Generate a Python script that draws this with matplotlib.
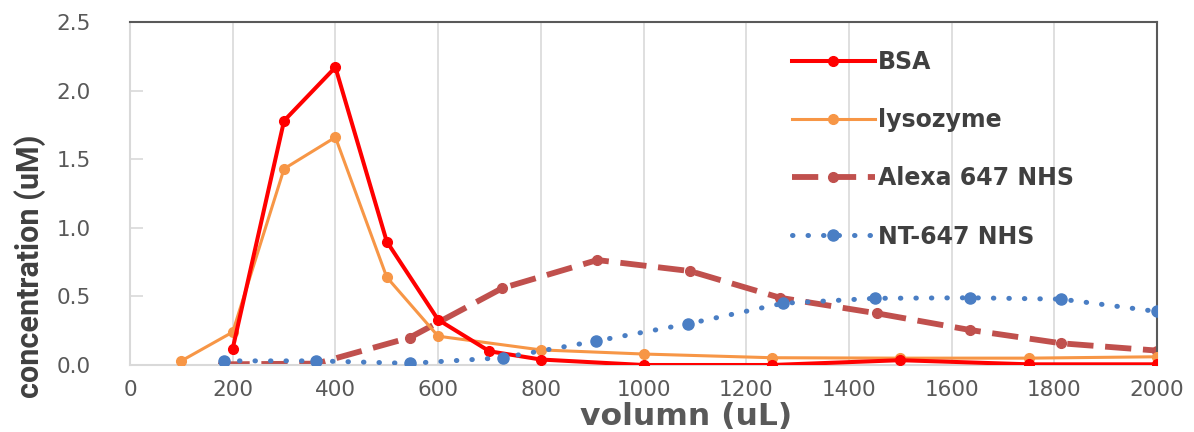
import matplotlib
matplotlib.use("Agg")
import matplotlib.pyplot as plt

# ---- data ----
bsa_x = [200, 300, 400, 500, 600, 700, 800, 1000, 1250, 1500, 1750, 2000]
bsa_y = [0.12, 1.78, 2.17, 0.90, 0.33, 0.10, 0.04, 0.0, 0.0, 0.035, 0.005, 0.005]

lys_x = [100, 200, 300, 400, 500, 600, 800, 1000, 1250, 1500, 1750, 2000]
lys_y = [0.03, 0.24, 1.43, 1.66, 0.64, 0.21, 0.11, 0.08, 0.053, 0.05, 0.05, 0.06]

alexa_x = [182, 363, 545, 725, 910, 1090, 1266, 1454, 1636, 1814, 2000]
alexa_y = [0.005, 0.01, 0.20, 0.56, 0.765, 0.685, 0.49, 0.377, 0.255, 0.158, 0.105]

nt_x = [183, 363, 545, 726, 908, 1087, 1272, 1451, 1636, 1814, 2000]
nt_y = [0.03, 0.03, 0.012, 0.053, 0.175, 0.30, 0.45, 0.486, 0.49, 0.48, 0.39]

labels = ["BSA", "lysozyme", "Alexa 647 NHS", "NT-647 NHS"]
x_ticks = [0, 200, 400, 600, 800, 1000, 1200, 1400, 1600, 1800, 2000]
y_ticks = [0.0, 0.5, 1.0, 1.5, 2.0, 2.5]

W, H = 1194, 432
fig = plt.figure(figsize=(W / 100, H / 100), dpi=100)
ax = fig.add_axes([130 / W, 1 - 365 / H, (1157 - 130) / W, (365 - 22) / H])

ax.plot(bsa_x, bsa_y, color="#FF0000", lw=2.9, marker="o", ms=7,
        label=labels[0], zorder=4)
ax.plot(lys_x, lys_y, color="#F79646", lw=2.2, marker="o", ms=7,
        label=labels[1], zorder=3)
ax.plot(alexa_x, alexa_y, color="#C0504D", lw=4.2, marker="o", ms=7,
        linestyle=(0, (4.5, 2)), label=labels[2], zorder=2)
ax.plot(nt_x, nt_y, color="#4A7EC4", lw=3.6, marker="o", ms=8,
        linestyle=(0, (0.1, 3.0)), dash_capstyle="round",
        label=labels[3], zorder=5)

ax.set_xlim(0, 2000)
ax.set_ylim(0, 2.5)
ax.set_xticks(x_ticks)
ax.set_yticks(y_ticks)
ax.set_yticklabels([f"{v:.1f}" for v in y_ticks])
ax.grid(axis="x", color="#D9D9D9", lw=1.2)
ax.set_axisbelow(True)

ax.tick_params(axis="y", direction="in", length=9, width=1.2, color="#D9D9D9",
               labelsize=15.5, labelcolor="#595959", pad=28)
ax.tick_params(axis="x", length=0, labelsize=15.5, labelcolor="#595959", pad=11)

for s in ["left", "bottom"]:
    ax.spines[s].set_color("#D9D9D9")
    ax.spines[s].set_linewidth(1.5)
for s in ["top", "right"]:
    ax.spines[s].set_color("#595959")
    ax.spines[s].set_linewidth(1.5)

# y label: fit to ~263 px length, centred at (30, 266) px
ylab = fig.text(30 / W, 1 - 266 / H, "concentration (uM)", rotation=90,
                ha="center", va="center", fontsize=20, fontweight="bold",
                color="#404040", family="Roboto")
fig.canvas.draw()
r = fig.canvas.get_renderer()
ext = ylab.get_window_extent(r)
ylab.set_fontsize(20 * 263 / ext.height)

# x label: fit to ~212 px width, inside the bottom edge
xlab = fig.text(686 / W, 1 / H, "volumn (uL)", ha="center", va="bottom",
                fontsize=20, fontweight="bold", color="#595959")
fig.canvas.draw()
ext = xlab.get_window_extent(r)
xlab.set_fontsize(20 * 212 / ext.width)

leg = ax.legend(loc="upper left", bbox_to_anchor=(792 / W, 1 - 50 / H),
                bbox_transform=fig.transFigure, frameon=False,
                fontsize=17, handlelength=3.5, labelspacing=1.45,
                handletextpad=0.15, borderpad=0, borderaxespad=0)
for t in leg.get_texts():
    t.set_color("#404040")
    t.set_fontweight("bold")

fig.savefig("out.png", dpi=100)
